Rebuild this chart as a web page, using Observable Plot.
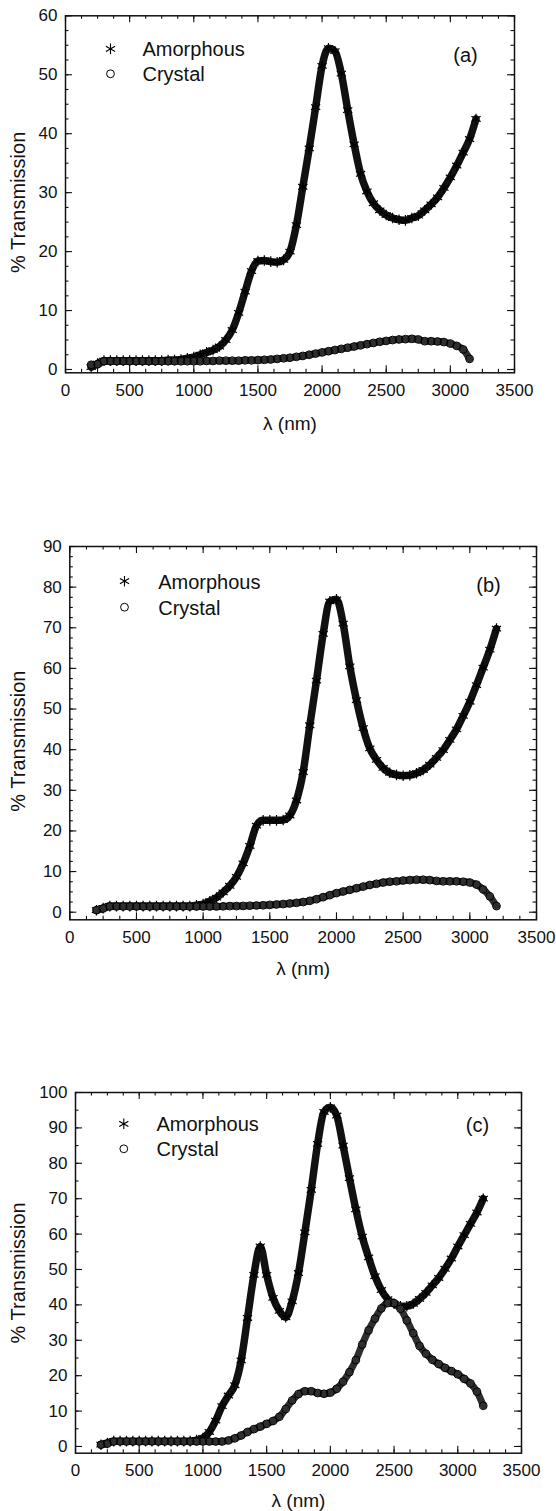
<!DOCTYPE html>
<html>
<head>
<meta charset="utf-8">
<script src="https://cdn.jsdelivr.net/npm/d3@7"></script>
<script src="https://cdn.jsdelivr.net/npm/@observablehq/plot@0.6"></script>
<style>
  html, body { margin: 0; padding: 0; background: #fff; }
  #wrap { position: relative; width: 556px; height: 1511px; overflow: hidden; background: #fff; }
  .panel { position: absolute; left: 0; }
</style>
</head>
<body>
<div id="wrap"></div>
<script>
// ---- Data ----
const wavelength = [200,250,300,350,400,450,500,550,600,650,700,750,800,850,900,950,1000,1050,1100,1150,1200,1250,1300,1350,1400,1450,1500,1550,1600,1650,1700,1750,1800,1850,1900,1950,2000,2050,2100,2150,2200,2250,2300,2350,2400,2450,2500,2550,2600,2650,2700,2750,2800,2850,2900,2950,3000,3050,3100,3150,3200];

const amorphousA = [0.4,1.0,1.5,1.5,1.5,1.5,1.5,1.5,1.5,1.5,1.5,1.5,1.6,1.6,1.7,1.9,2.1,2.5,2.9,3.3,3.9,5.0,6.7,9.6,13.2,16.7,18.4,18.5,18.3,18.2,18.6,20.0,24.5,31.0,37.5,44.5,51.5,54.5,54.0,50.2,44.0,38.2,33.2,30.2,28.2,27.0,26.2,25.7,25.4,25.3,25.7,26.1,27.0,28.0,29.2,30.8,32.6,34.6,36.8,39.1,42.5];
const crystalA = [0.8,0.9,1.4,1.4,1.4,1.4,1.4,1.4,1.4,1.4,1.4,1.4,1.4,1.4,1.4,1.4,1.4,1.4,1.45,1.45,1.5,1.5,1.5,1.5,1.55,1.55,1.6,1.65,1.7,1.8,1.9,2.0,2.15,2.3,2.5,2.7,2.9,3.1,3.3,3.5,3.7,3.9,4.1,4.3,4.5,4.7,4.85,5.0,5.1,5.15,5.2,5.1,4.8,4.8,4.75,4.65,4.4,4.0,3.4,1.8,null];

const amorphousB = [0.5,1.0,1.5,1.5,1.5,1.5,1.5,1.5,1.5,1.5,1.5,1.5,1.5,1.5,1.5,1.7,2.0,2.7,3.6,4.9,6.5,8.7,12.0,16.3,21.3,22.6,22.6,22.6,22.7,23.8,27.5,34.5,46.0,57.0,68.5,76.5,77.0,71.0,60.5,52.2,45.3,40.3,37.5,35.5,34.3,33.8,33.6,33.7,34.2,35.0,36.3,38.0,39.9,42.4,45.0,48.3,51.8,55.9,60.2,64.6,69.8];
const crystalB = [0.5,0.9,1.4,1.4,1.4,1.4,1.4,1.4,1.4,1.4,1.4,1.4,1.4,1.4,1.4,1.4,1.4,1.4,1.4,1.45,1.5,1.5,1.55,1.6,1.65,1.7,1.8,1.9,2.0,2.15,2.3,2.5,2.8,3.2,3.7,4.2,4.7,5.1,5.5,5.9,6.3,6.7,7.0,7.3,7.5,7.6,7.8,7.9,8.0,8.0,7.9,7.7,7.6,7.6,7.6,7.5,7.3,6.8,5.6,3.9,1.5];

const amorphousC = [0.5,1.0,1.5,1.5,1.5,1.5,1.5,1.5,1.5,1.5,1.5,1.5,1.5,1.5,1.5,1.8,2.4,4.1,7.3,11.4,14.4,17.3,24.3,36.3,48.5,56.5,48.5,42.0,38.3,36.5,41.0,49.0,60.5,72.5,85.5,94.5,95.8,93.5,85.0,75.8,67.0,59.3,53.4,48.1,44.2,41.6,40.3,39.6,39.6,40.3,41.7,43.4,45.5,47.6,50.2,53.1,56.5,59.7,62.9,66.1,70.0];
const crystalC = [0.5,0.8,1.4,1.4,1.4,1.4,1.4,1.4,1.4,1.4,1.4,1.4,1.4,1.4,1.4,1.4,1.4,1.4,1.4,1.4,1.7,2.3,3.1,4.1,4.9,5.6,6.4,7.2,8.4,10.6,13.0,14.8,15.6,15.6,15.1,14.9,15.2,16.3,18.3,21.0,24.4,28.8,32.8,36.1,39.0,40.5,40.5,38.9,35.6,32.0,28.4,26.2,24.5,23.3,22.2,21.3,20.4,19.1,17.8,15.5,11.5];

const seriesNames = ["Amorphous", "Crystal"];
const xTickLabels = [0,500,1000,1500,2000,2500,3000,3500];
const yTickLabelsA = [0,10,20,30,40,50,60];
const yTickLabelsB = [0,10,20,30,40,50,60,70,80,90];
const yTickLabelsC = [0,10,20,30,40,50,60,70,80,90,100];
const panelTags = ["(a)", "(b)", "(c)"];
const xTitle = "λ (nm)";
const yTitle = "% Transmission";

// ---- Layout / style ----
const FONT = "'Liberation Sans', Arial, Helvetica, sans-serif";
const W = 556;

const panels = [
  {top: 0, h: 440, mt: 15.3, mb: 67.7, ml: 65, mr: 42, yDomain: [-0.56, 60], yTicks: yTickLabelsA, yMinor: 2.5,
   amorphous: amorphousA, crystal: crystalA, tag: panelTags[0], tagDx: -49, tagDy: 39.7,
   legSx: 45, legSy1: 33, legSy2: 58, legTx: 77, yTitleDx: -47, yTitleDy: 8, xTitleDy: 50.7},
  {top: 500, h: 480, mt: 46, mb: 60.7, ml: 69.3, mr: 20, yDomain: [-1.87, 90], yTicks: yTickLabelsB, yMinor: 2.5,
   amorphous: amorphousB, crystal: crystalB, tag: panelTags[1], tagDx: -48, tagDy: 39,
   legSx: 54.7, legSy1: 34.7, legSy2: 60.7, legTx: 88.4, yTitleDx: -51, yTitleDy: 8, xTitleDy: 49},
  {top: 1040, h: 471, mt: 52, mb: 58.3, ml: 75, mr: 35, yDomain: [-1.9, 100], yTicks: yTickLabelsC, yMinor: 5,
   amorphous: amorphousC, crystal: crystalC, tag: panelTags[2], tagDx: -44, tagDy: 33,
   legSx: 48.3, legSy1: 31.3, legSy2: 56.3, legTx: 81, yTitleDx: -57, yTitleDy: 0, xTitleDy: 47.3}
];

const ink = "#111";

function makePanel(p) {
  const innerW = W - p.ml - p.mr;
  const innerH = p.h - p.mt - p.mb;
  const rowsA = wavelength.map((w, i) => ({w, t: p.amorphous[i]})).filter(d => d.t != null);
  const rowsC = wavelength.map((w, i) => ({w, t: p.crystal[i]})).filter(d => d.t != null);
  const yMax = p.yTicks[p.yTicks.length - 1];
  const xMinor = d3.range(0, 3500 + 1, 125);
  const yMinor = d3.range(0, yMax + 0.001, p.yMinor);
  const minorLen = 3.5, majorLen = 7;
  const tk = {stroke: ink, strokeWidth: 1.1};

  return Plot.plot({
    width: W,
    height: p.h,
    marginTop: p.mt,
    marginBottom: p.mb,
    marginLeft: p.ml,
    marginRight: p.mr,
    x: {domain: [0, 3500], axis: null},
    y: {domain: p.yDomain, axis: null},
    style: {fontFamily: FONT, fontSize: "17px", color: ink, background: "transparent", overflow: "visible"},
    marks: [
      // Amorphous band + asterisks
      Plot.line(rowsA, {x: "w", y: "t", stroke: "#111", strokeWidth: 7.5, curve: "monotone-x"}),
      Plot.dot(rowsA, {x: "w", y: "t", symbol: "asterisk", r: 5, stroke: "#000", strokeWidth: 1.2}),
      // Crystal band + circles
      Plot.line(rowsC, {x: "w", y: "t", stroke: "#2e2e2e", strokeWidth: 7, curve: "monotone-x"}),
      Plot.dot(rowsC, {x: "w", y: "t", symbol: "circle", r: 3.9, stroke: "#000", fill: "none", strokeWidth: 1}),

      // inward ticks on all four sides
      Plot.tickX(xMinor, {x: d => d, insetTop: innerH - minorLen, ...tk}),
      Plot.tickX(xTickLabels, {x: d => d, insetTop: innerH - majorLen, ...tk}),
      Plot.tickX(xMinor, {x: d => d, insetBottom: innerH - minorLen, ...tk}),
      Plot.tickX(xTickLabels, {x: d => d, insetBottom: innerH - majorLen, ...tk}),
      Plot.tickY(yMinor, {y: d => d, insetRight: innerW - minorLen, ...tk}),
      Plot.tickY(p.yTicks, {y: d => d, insetRight: innerW - majorLen, ...tk}),
      Plot.tickY(yMinor, {y: d => d, insetLeft: innerW - minorLen, ...tk}),
      Plot.tickY(p.yTicks, {y: d => d, insetLeft: innerW - majorLen, ...tk}),
      Plot.frame({stroke: ink, strokeWidth: 1.5}),

      // tick labels
      Plot.text(xTickLabels, {x: d => d, text: d => String(d), frameAnchor: "bottom", dy: 17.7, lineAnchor: "middle", textAnchor: "middle", fontSize: 17, fill: ink}),
      Plot.text(p.yTicks, {y: d => d, text: d => String(d), frameAnchor: "left", dx: -8, lineAnchor: "middle", textAnchor: "end", fontSize: 17, fill: ink}),

      // axis titles
      Plot.text([xTitle], {text: d => d, frameAnchor: "bottom", dy: p.xTitleDy, lineAnchor: "middle", textAnchor: "middle", fontSize: 19, fill: ink}),
      Plot.text([yTitle], {text: d => d, frameAnchor: "left", dx: p.yTitleDx, dy: p.yTitleDy, rotate: -90, lineAnchor: "middle", textAnchor: "middle", fontSize: 20, fill: ink}),

      // panel tag
      Plot.text([p.tag], {text: d => d, frameAnchor: "top-right", dx: p.tagDx, dy: p.tagDy, lineAnchor: "middle", textAnchor: "middle", fontSize: 20, fill: ink}),

      // legend
      Plot.dot([seriesNames[0]], {frameAnchor: "top-left", dx: p.legSx, dy: p.legSy1, symbol: "asterisk", r: 5, stroke: "#000", strokeWidth: 1.1}),
      Plot.dot([seriesNames[1]], {frameAnchor: "top-left", dx: p.legSx, dy: p.legSy2, symbol: "circle", r: 3.9, stroke: "#000", fill: "none", strokeWidth: 1}),
      Plot.text([seriesNames[0]], {text: d => d, frameAnchor: "top-left", dx: p.legTx, dy: p.legSy1 + 1, lineAnchor: "middle", textAnchor: "start", fontSize: 20, fill: ink}),
      Plot.text([seriesNames[1]], {text: d => d, frameAnchor: "top-left", dx: p.legTx, dy: p.legSy2 + 1, lineAnchor: "middle", textAnchor: "start", fontSize: 20, fill: ink})
    ]
  });
}

const wrap = document.getElementById("wrap");
for (const p of panels) {
  const div = document.createElement("div");
  div.className = "panel";
  div.style.top = p.top + "px";
  div.appendChild(makePanel(p));
  wrap.appendChild(div);
}
</script>
</body>
</html>
